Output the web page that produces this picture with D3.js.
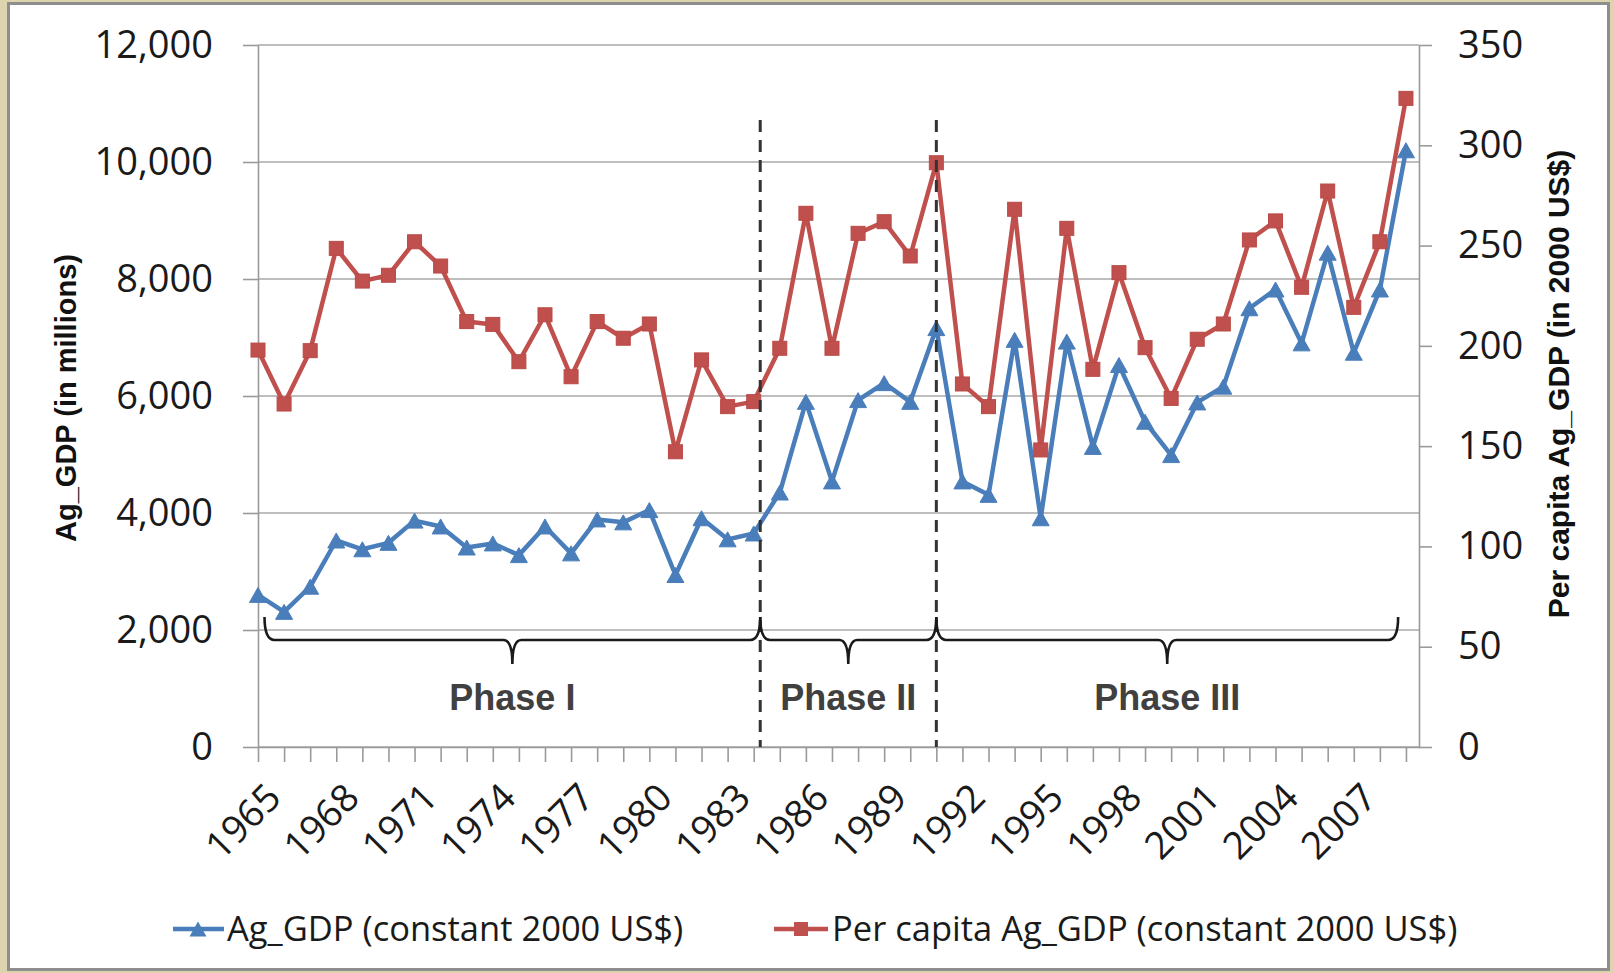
<!DOCTYPE html>
<html>
<head>
<meta charset="utf-8">
<script src="https://cdn.jsdelivr.net/npm/d3@7"></script>
<style>
  html, body { margin: 0; padding: 0; background: #ddd3ae; }
  svg { display: block; }
</style>
</head>
<body>
<svg id="chart" width="1613" height="973"></svg>
<script>
// ---- data -------------------------------------------------------------
const years = [1965, 1966, 1967, 1968, 1969, 1970, 1971, 1972, 1973, 1974,
               1975, 1976, 1977, 1978, 1979, 1980, 1981, 1982, 1983, 1984,
               1985, 1986, 1987, 1988, 1989, 1990, 1991, 1992, 1993, 1994,
               1995, 1996, 1997, 1998, 1999, 2000, 2001, 2002, 2003, 2004,
               2005, 2006, 2007, 2008, 2009];

// Ag_GDP, constant 2000 US$, millions (left axis)
const agGDP = [2600, 2310, 2740, 3530, 3380, 3490, 3870, 3770, 3410, 3480,
               3280, 3770, 3310, 3890, 3840, 4050, 2940, 3910, 3550, 3650,
               4350, 5900, 4540, 5930, 6220, 5900, 7160, 4540, 4310, 6960,
               3910, 6930, 5130, 6530, 5560, 4990, 5890, 6160, 7500, 7820,
               6900, 8450, 6740, 7820, 10200];

// Per capita Ag_GDP, constant 2000 US$ (right axis)
const perCapitaGDP = [197.9, 171.0, 197.6, 248.6, 232.3, 235.2, 251.9, 239.8, 212.1, 210.7,
                      192.1, 215.5, 184.6, 212.1, 203.8, 210.9, 147.2, 193.0, 169.7, 172.2,
                      198.8, 266.1, 198.8, 256.1, 261.9, 244.8, 291.3, 181.0, 169.7, 268.1,
                      148.1, 258.6, 188.3, 236.5, 199.1, 173.8, 203.3, 210.9, 252.8, 262.3,
                      229.2, 277.2, 219.2, 251.9, 323.4];

const leftTicks  = [0, 2000, 4000, 6000, 8000, 10000, 12000];
const rightTicks = [0, 50, 100, 150, 200, 250, 300, 350];
const yearLabels = [1965, 1968, 1971, 1974, 1977, 1980, 1983, 1986, 1989,
                    1992, 1995, 1998, 2001, 2004, 2007];

const phaseNames  = ["Phase I", "Phase II", "Phase III"];
const phaseStarts = [1965.25, 1984.25, 1991];
const phaseEnds   = [1984.25, 1991, 2008.7];
const phaseBreaks = [1984.25, 1991];

const seriesNames = ["Ag_GDP (constant 2000 US$)", "Per capita Ag_GDP (constant 2000 US$)"];
const leftTitle  = "Ag_GDP (in millions)";
const rightTitle = "Per capita Ag_GDP (in 2000 US$)";

// ---- layout -------------------------------------------------------------
const plot = { left: 258, right: 1419, top: 45, bottom: 747 };
const BLUE = "#4a7ebb", RED = "#c0504d";
const GRID = "#a9a9a9", AXIS = "#9a9a9a";
const TICK_FONT = "'Open Sans', 'DejaVu Sans', sans-serif";
const BOLD_FONT = "'Liberation Sans', Arial, sans-serif";

const svg = d3.select("#chart");

// frame
svg.append("rect")
  .attr("x", 8.5).attr("y", 3.5)
  .attr("width", 1600).attr("height", 966)
  .attr("fill", "#ffffff")
  .attr("stroke", "#8e8e8e").attr("stroke-width", 3);

const x  = d3.scaleLinear().domain([1965, 2009.5]).range([plot.left, plot.right]);
const yL = d3.scaleLinear().domain([0, 12000]).range([plot.bottom, plot.top]);
const yR = d3.scaleLinear().domain([0, 350]).range([plot.bottom, plot.top]);

// horizontal gridlines (primary axis)
svg.append("g").selectAll("line")
  .data(leftTicks)
  .join("line")
  .attr("x1", plot.left).attr("x2", plot.right)
  .attr("y1", d => yL(d)).attr("y2", d => yL(d))
  .attr("stroke", GRID).attr("stroke-width", 1.6);

// left axis
const gL = svg.append("g")
  .attr("transform", `translate(${plot.left},0)`)
  .call(d3.axisLeft(yL).tickValues(leftTicks).tickFormat(d3.format(","))
        .tickSizeInner(15).tickSizeOuter(0).tickPadding(30));

// right axis
const gR = svg.append("g")
  .attr("transform", `translate(${plot.right},0)`)
  .call(d3.axisRight(yR).tickValues(rightTicks)
        .tickSizeInner(13).tickSizeOuter(0).tickPadding(26));

// bottom axis: a tick at every year, labels every third year
const gB = svg.append("g")
  .attr("transform", `translate(0,${plot.bottom})`)
  .call(d3.axisBottom(x).tickValues(years).tickFormat("")
        .tickSizeInner(15).tickSizeOuter(0));

[gL, gR, gB].forEach(g => {
  g.select(".domain").attr("stroke", AXIS).attr("stroke-width", 1.6);
  g.selectAll(".tick line").attr("stroke", AXIS).attr("stroke-width", 1.6);
  g.selectAll(".tick text")
    .attr("font-family", TICK_FONT).attr("font-size", 38)
    .attr("fill", "#1a1a1a");
});

svg.append("g").selectAll("text")
  .data(yearLabels)
  .join("text")
  .attr("transform", d => `translate(${x(d) + 25},${plot.bottom + 53}) rotate(-45)`)
  .attr("text-anchor", "end")
  .attr("font-family", TICK_FONT).attr("font-size", 38)
  .attr("fill", "#1a1a1a")
  .text(d => d);

// axis titles
svg.append("text")
  .attr("transform", `translate(76,398) rotate(-90)`)
  .attr("text-anchor", "middle")
  .attr("font-family", BOLD_FONT).attr("font-weight", "bold").attr("font-size", 29)
  .attr("fill", "#111")
  .text(leftTitle);

svg.append("text")
  .attr("transform", `translate(1569,384) rotate(-90)`)
  .attr("text-anchor", "middle")
  .attr("font-family", BOLD_FONT).attr("font-weight", "bold").attr("font-size", 30)
  .attr("fill", "#111")
  .text(rightTitle);

// ---- series -------------------------------------------------------------
const blueLine = d3.line().x((d, i) => x(years[i])).y(d => yL(d));
const redLine  = d3.line().x((d, i) => x(years[i])).y(d => yR(d));

svg.append("path").datum(agGDP)
  .attr("d", blueLine)
  .attr("fill", "none").attr("stroke", BLUE)
  .attr("stroke-width", 4.5).attr("stroke-linejoin", "round");

const triangle = "M0,-7.5L8.5,7.5L-8.5,7.5Z";
svg.append("g").selectAll("path")
  .data(agGDP)
  .join("path")
  .attr("d", triangle)
  .attr("transform", (d, i) => `translate(${x(years[i])},${yL(d)})`)
  .attr("fill", BLUE).attr("stroke", BLUE).attr("stroke-width", 1);

svg.append("path").datum(perCapitaGDP)
  .attr("d", redLine)
  .attr("fill", "none").attr("stroke", RED)
  .attr("stroke-width", 4.5).attr("stroke-linejoin", "round");

svg.append("g").selectAll("rect")
  .data(perCapitaGDP)
  .join("rect")
  .attr("x", (d, i) => x(years[i]) - 7)
  .attr("y", d => yR(d) - 7)
  .attr("width", 14).attr("height", 14)
  .attr("fill", RED).attr("stroke", "#b94a47").attr("stroke-width", 1);

// ---- phase annotations ---------------------------------------------------
svg.append("g").selectAll("line")
  .data(phaseBreaks)
  .join("line")
  .attr("x1", d => x(d)).attr("x2", d => x(d))
  .attr("y1", 120).attr("y2", plot.bottom)
  .attr("stroke", "#333").attr("stroke-width", 3)
  .attr("stroke-dasharray", "12,8");

const braceTop = 617, braceY = 640, braceTip = 664;
function bracePath(a, b) {
  const m = (a + b) / 2;
  return `M${a},${braceTop} Q${a},${braceY} ${a + 10},${braceY} ` +
         `L${m - 9},${braceY} Q${m},${braceY} ${m},${braceTip} ` +
         `Q${m},${braceY} ${m + 9},${braceY} ` +
         `L${b - 10},${braceY} Q${b},${braceY} ${b},${braceTop}`;
}

const phases = phaseNames.map((name, i) => ({ name, a: x(phaseStarts[i]), b: x(phaseEnds[i]) }));

svg.append("g").selectAll("path")
  .data(phases)
  .join("path")
  .attr("d", p => bracePath(p.a, p.b))
  .attr("fill", "none").attr("stroke", "#1a1a1a").attr("stroke-width", 2.6);

svg.append("g").selectAll("text")
  .data(phases)
  .join("text")
  .attr("x", p => (p.a + p.b) / 2).attr("y", 710)
  .attr("text-anchor", "middle")
  .attr("font-family", BOLD_FONT).attr("font-weight", "bold").attr("font-size", 36)
  .attr("fill", "#404040")
  .text(p => p.name);

// ---- legend -------------------------------------------------------------
const legendY = 929;
const legend = svg.append("g");
legend.append("line")
  .attr("x1", 173).attr("x2", 224).attr("y1", legendY).attr("y2", legendY)
  .attr("stroke", BLUE).attr("stroke-width", 4.5);
legend.append("path")
  .attr("d", triangle).attr("transform", `translate(198,${legendY})`)
  .attr("fill", BLUE);
legend.append("text")
  .attr("x", 227).attr("y", legendY).attr("dy", "0.35em")
  .attr("font-family", TICK_FONT).attr("font-size", 34.5).attr("fill", "#1a1a1a")
  .text(seriesNames[0]);

legend.append("line")
  .attr("x1", 774).attr("x2", 828).attr("y1", legendY).attr("y2", legendY)
  .attr("stroke", RED).attr("stroke-width", 4.5);
legend.append("rect")
  .attr("x", 794).attr("y", legendY - 7).attr("width", 14).attr("height", 14)
  .attr("fill", RED);
legend.append("text")
  .attr("x", 832).attr("y", legendY).attr("dy", "0.35em")
  .attr("font-family", TICK_FONT).attr("font-size", 34.5).attr("fill", "#1a1a1a")
  .text(seriesNames[1]);
</script>
</body>
</html>
